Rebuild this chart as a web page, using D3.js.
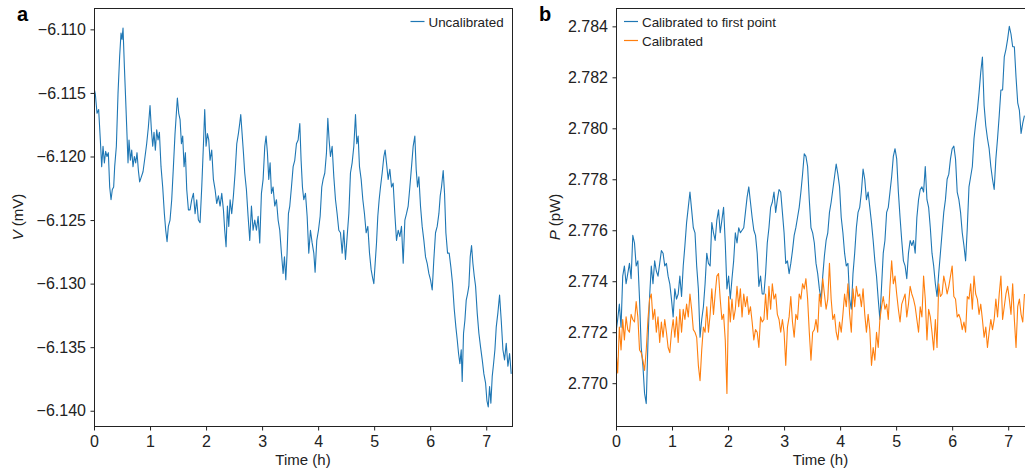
<!DOCTYPE html>
<meta charset="utf-8">
<style>
  body { margin: 0; background: #fff; }
  svg { display: block; font-family: "Liberation Sans", Arial, sans-serif; }
</style>
<body>
<script src="https://d3js.org/d3.v7.min.js"></script>
<script>

// ---- panel a: uncalibrated voltage (mV) vs time (h)
var timeA = [0,0.024,0.054,0.083,0.113,0.137,0.161,0.185,0.208,0.232,0.256,0.28,0.304,0.327,0.351,0.369,0.399,0.429,0.458,0.482,
  0.5,0.518,0.542,0.565,0.583,0.607,0.625,0.649,0.673,0.696,0.72,0.744,0.768,0.792,0.815,0.845,0.875,0.911,0.94,0.97,
  1.0,1.024,1.048,1.071,1.095,1.119,1.143,1.167,1.196,1.226,1.256,1.28,1.304,1.327,1.357,1.387,1.417,1.446,1.47,1.488,
  1.512,1.536,1.56,1.583,1.607,1.631,1.655,1.685,1.714,1.744,1.774,1.804,1.833,1.863,1.893,1.923,1.952,1.976,2.0,2.024,
  2.048,2.071,2.101,2.131,2.161,2.19,2.22,2.25,2.28,2.31,2.333,2.357,2.381,2.405,2.429,2.458,2.488,2.518,2.548,2.577,
  2.601,2.619,2.643,2.667,2.69,2.72,2.75,2.78,2.81,2.839,2.869,2.899,2.929,2.958,2.988,3.018,3.048,3.071,3.095,3.119,
  3.143,3.167,3.196,3.226,3.256,3.286,3.315,3.345,3.375,3.399,3.423,3.446,3.47,3.494,3.524,3.554,3.583,3.613,3.643,3.673,
  3.696,3.72,3.744,3.774,3.804,3.833,3.863,3.893,3.923,3.946,3.976,4.006,4.036,4.065,4.089,4.119,4.149,4.173,4.196,4.22,
  4.25,4.28,4.31,4.339,4.369,4.399,4.429,4.458,4.488,4.518,4.548,4.577,4.607,4.637,4.667,4.69,4.714,4.738,4.768,4.798,
  4.827,4.857,4.887,4.917,4.946,4.97,4.994,5.018,5.042,5.065,5.089,5.113,5.143,5.173,5.196,5.22,5.25,5.28,5.31,5.339,
  5.369,5.399,5.429,5.458,5.488,5.518,5.548,5.577,5.607,5.637,5.667,5.696,5.726,5.75,5.774,5.798,5.827,5.857,5.887,5.917,
  5.946,5.976,6.006,6.036,6.065,6.095,6.125,6.155,6.179,6.202,6.232,6.256,6.28,6.31,6.339,6.369,6.399,6.429,6.458,6.482,
  6.506,6.53,6.554,6.571,6.595,6.619,6.643,6.667,6.69,6.714,6.738,6.762,6.786,6.81,6.839,6.869,6.899,6.929,6.958,6.988,
  7.012,7.036,7.06,7.083,7.107,7.131,7.155,7.179,7.208,7.238,7.268,7.298,7.327,7.357,7.387,7.417,7.446];

var uncalibrated = [-6.1146,-6.1151,-6.1166,-6.1163,-6.1187,-6.1208,-6.1192,-6.1205,-6.1196,-6.1200,-6.1197,-6.1224,-6.1234,-6.1226,-6.1224,-6.1208,-6.1192,-6.1150,-6.1121,-6.1103,
  -6.1108,-6.1099,-6.1129,-6.1155,-6.1176,-6.1205,-6.1187,-6.1203,-6.1195,-6.1208,-6.1200,-6.1205,-6.1197,-6.1211,-6.1220,-6.1216,-6.1212,-6.1200,-6.1190,-6.1177,
  -6.1160,-6.1179,-6.1192,-6.1181,-6.1195,-6.1179,-6.1187,-6.1181,-6.1208,-6.1224,-6.1245,-6.1258,-6.1267,-6.1255,-6.1250,-6.1234,-6.1208,-6.1182,-6.1166,-6.1154,
  -6.1166,-6.1171,-6.1190,-6.1184,-6.1208,-6.1197,-6.1226,-6.1242,-6.1242,-6.1234,-6.1229,-6.1245,-6.1234,-6.1250,-6.1252,-6.1224,-6.1192,-6.1163,-6.1192,-6.1182,
  -6.1187,-6.1203,-6.1195,-6.1218,-6.1226,-6.1237,-6.1231,-6.1239,-6.1229,-6.1242,-6.1258,-6.1271,-6.1239,-6.1255,-6.1234,-6.1245,-6.1231,-6.1213,-6.1190,-6.1182,
  -6.1174,-6.1167,-6.1182,-6.1197,-6.1213,-6.1226,-6.1247,-6.1266,-6.1239,-6.1258,-6.1250,-6.1258,-6.1247,-6.1268,-6.1229,-6.1218,-6.1192,-6.1184,-6.1197,-6.1218,
  -6.1205,-6.1229,-6.1224,-6.1239,-6.1234,-6.1250,-6.1258,-6.1276,-6.1292,-6.1279,-6.1297,-6.1276,-6.1245,-6.1239,-6.1224,-6.1208,-6.1203,-6.1190,-6.1187,-6.1174,
  -6.1203,-6.1224,-6.1234,-6.1229,-6.1247,-6.1276,-6.1258,-6.1268,-6.1276,-6.1291,-6.1266,-6.1258,-6.1247,-6.1224,-6.1218,-6.1213,-6.1197,-6.1170,-6.1187,-6.1200,
  -6.1192,-6.1216,-6.1234,-6.1245,-6.1258,-6.1260,-6.1276,-6.1258,-6.1281,-6.1263,-6.1245,-6.1213,-6.1205,-6.1192,-6.1167,-6.1190,-6.1184,-6.1208,-6.1218,-6.1234,
  -6.1245,-6.1260,-6.1255,-6.1276,-6.1289,-6.1295,-6.1300,-6.1284,-6.1268,-6.1247,-6.1234,-6.1224,-6.1213,-6.1200,-6.1195,-6.1205,-6.1218,-6.1210,-6.1224,-6.1221,
  -6.1245,-6.1266,-6.1258,-6.1263,-6.1255,-6.1284,-6.1250,-6.1245,-6.1239,-6.1224,-6.1208,-6.1192,-6.1184,-6.1210,-6.1224,-6.1216,-6.1239,-6.1255,-6.1266,-6.1279,
  -6.1284,-6.1292,-6.1297,-6.1305,-6.1281,-6.1260,-6.1255,-6.1245,-6.1231,-6.1224,-6.1211,-6.1229,-6.1260,-6.1276,-6.1276,-6.1287,-6.1300,-6.1320,-6.1334,-6.1344,
  -6.1355,-6.1363,-6.1352,-6.1377,-6.1339,-6.1329,-6.1313,-6.1308,-6.1302,-6.1279,-6.1270,-6.1284,-6.1294,-6.1302,-6.1323,-6.1339,-6.1350,-6.1360,-6.1371,-6.1378,
  -6.1392,-6.1397,-6.1381,-6.1394,-6.1373,-6.1363,-6.1352,-6.1334,-6.1323,-6.1309,-6.1329,-6.1352,-6.1360,-6.1347,-6.1365,-6.1355,-6.1371];

// ---- panel b: power (pW) vs time (h)
var timeB = [0,0.03,0.06,0.09,0.12,0.15,0.18,0.21,0.24,0.27,
  0.30,0.33,0.36,0.39,0.42,0.45,0.48,0.51,0.54,0.57,
  0.60,0.63,0.66,0.69,0.72,0.75,0.78,0.81,0.84,0.87,
  0.90,0.93,0.96,0.99,1.02,1.05,1.08,1.11,1.14,1.17,
  1.20,1.23,1.26,1.29,1.32,1.35,1.38,1.41,1.44,1.47,
  1.50,1.53,1.56,1.59,1.62,1.65,1.68,1.71,1.74,1.77,
  1.80,1.83,1.86,1.89,1.92,1.95,1.98,2.01,2.04,2.07,
  2.10,2.13,2.16,2.19,2.22,2.25,2.28,2.31,2.34,2.37,
  2.40,2.43,2.46,2.49,2.52,2.55,2.58,2.61,2.64,2.67,
  2.70,2.73,2.76,2.79,2.82,2.85,2.88,2.91,2.94,2.97,
  3.00,3.03,3.06,3.09,3.12,3.15,3.18,3.21,3.24,3.27,
  3.30,3.33,3.36,3.39,3.42,3.45,3.48,3.51,3.54,3.57,
  3.60,3.63,3.66,3.69,3.72,3.75,3.78,3.81,3.84,3.87,
  3.90,3.93,3.96,3.99,4.02,4.05,4.08,4.11,4.14,4.17,
  4.20,4.23,4.26,4.29,4.32,4.35,4.38,4.41,4.44,4.47,
  4.50,4.53,4.56,4.59,4.62,4.65,4.68,4.71,4.74,4.77,
  4.80,4.83,4.86,4.89,4.92,4.95,4.98,5.01,5.04,5.07,
  5.10,5.13,5.16,5.19,5.22,5.25,5.28,5.31,5.34,5.37,
  5.40,5.43,5.46,5.49,5.52,5.55,5.58,5.61,5.64,5.67,
  5.70,5.73,5.76,5.79,5.82,5.85,5.88,5.91,5.94,5.97,
  6.00,6.03,6.06,6.09,6.12,6.15,6.18,6.21,6.24,6.27,
  6.30,6.33,6.36,6.39,6.42,6.45,6.48,6.51,6.54,6.57,
  6.60,6.63,6.66,6.69,6.72,6.75,6.78,6.81,6.84,6.87,
  6.90,6.93,6.96,6.99,7.02,7.05,7.08,7.11,7.14,7.17,
  7.20,7.23,7.26,7.29];

var calibFirst = [2.7720,2.7725,2.7731,2.7722,2.7742,2.7746,2.7739,2.7743,2.7747,2.7741,
  2.7758,2.7755,2.7746,2.7748,2.7733,2.7714,2.7707,2.7696,2.7692,2.7716,
  2.7734,2.7746,2.7739,2.7748,2.7744,2.7742,2.7747,2.7752,2.7751,2.7746,
  2.7747,2.7742,2.7739,2.7733,2.7726,2.7737,2.7733,2.7735,2.7742,2.7734,
  2.7746,2.7754,2.7763,2.7769,2.7775,2.7768,2.7761,2.7759,2.7746,2.7737,
  2.7718,2.7725,2.7730,2.7739,2.7751,2.7747,2.7746,2.7763,2.7759,2.7756,
  2.7764,2.7768,2.7759,2.7764,2.7769,2.7755,2.7737,2.7742,2.7733,2.7741,
  2.7748,2.7759,2.7755,2.7761,2.7759,2.7760,2.7761,2.7767,2.7773,2.7777,
  2.7771,2.7765,2.7760,2.7758,2.7751,2.7738,2.7742,2.7735,
  2.7735,2.7743,2.7755,2.7761,2.7769,2.7771,2.7775,2.7767,2.7772,2.7776,
  2.7775,2.7767,2.7759,2.7747,2.7748,2.7743,2.7747,2.7752,2.7758,2.7761,
  2.7765,2.7769,2.7775,2.7782,2.7790,2.7789,2.7785,2.7772,2.7761,2.7759,
  2.7755,2.7747,2.7743,2.7737,2.7733,2.7742,2.7750,2.7756,2.7759,2.7767,
  2.7771,2.7776,2.7781,2.7786,2.7782,2.7777,2.7765,2.7759,2.7751,2.7746,
  2.7747,2.7733,2.7729,2.7743,2.7751,2.7761,2.7767,2.7769,2.7775,2.7784,
  2.7780,2.7772,2.7775,2.7769,2.7763,2.7756,2.7748,2.7742,2.7733,2.7725,
  2.7738,2.7751,2.7756,2.7767,2.7769,2.7775,2.7781,2.7789,2.7792,2.7788,
  2.7775,2.7765,2.7756,2.7748,2.7746,2.7741,2.7751,2.7756,2.7754,2.7756,
  2.7751,2.7765,2.7772,2.7776,2.7777,2.7775,2.7785,2.7772,2.7769,2.7761,
  2.7751,2.7746,2.7739,2.7734,2.7743,2.7751,2.7759,2.7767,2.7772,2.7780,
  2.7782,2.7788,2.7792,2.7793,2.7788,2.7775,2.7772,2.7767,2.7759,2.7754,
  2.7748,2.7761,2.7777,2.7781,2.7785,
  2.7796,2.7802,2.7807,2.7814,2.7822,2.7828,2.7809,2.7801,2.7796,2.7792,
  2.7785,2.7780,2.7776,2.7788,2.7796,2.7805,2.7815,2.7815,2.7828,2.7831,
  2.7835,2.7840,2.7837,2.7832,2.7832,2.7820,2.7810,2.7807,2.7798,2.7802,2.7805];

var calibrated = [2.7713,2.7704,2.7722,2.7713,2.7725,2.7717,2.7726,2.7721,2.7720,2.7727,
  2.7725,2.7724,2.7732,2.7726,2.7713,2.7712,2.7709,2.7705,2.7713,2.7725,
  2.7733,2.7735,2.7725,2.7729,2.7720,2.7726,2.7716,2.7724,2.7718,2.7725,
  2.7720,2.7714,2.7712,2.7720,2.7725,2.7718,2.7726,2.7716,2.7729,2.7720,
  2.7729,2.7725,2.7731,2.7726,2.7735,2.7729,2.7721,2.7720,2.7718,2.7707,
  2.7701,2.7713,2.7722,2.7720,2.7730,2.7720,2.7727,2.7737,2.7727,2.7735,
  2.7742,2.7743,2.7733,2.7725,2.7727,2.7717,2.7696,2.7734,2.7724,2.7733,
  2.7725,2.7729,2.7738,2.7730,2.7737,2.7726,2.7735,2.7730,2.7734,2.7727,
  2.7730,2.7724,2.7717,2.7721,2.7720,2.7714,2.7726,2.7724,
  2.7725,2.7735,2.7725,2.7738,2.7729,2.7739,2.7733,2.7735,2.7727,2.7725,
  2.7720,2.7725,2.7720,2.7707,2.7722,2.7726,2.7734,2.7724,2.7718,2.7727,
  2.7725,2.7735,2.7733,2.7739,2.7737,2.7741,2.7733,2.7720,2.7709,2.7720,
  2.7721,2.7725,2.7720,2.7735,2.7730,2.7741,2.7735,2.7729,2.7733,2.7747,
  2.7733,2.7725,2.7727,2.7720,2.7717,2.7724,2.7720,2.7727,2.7735,2.7730,
  2.7739,2.7727,2.7720,2.7737,2.7730,2.7738,2.7734,2.7735,2.7730,2.7737,
  2.7727,2.7720,2.7727,2.7721,2.7707,2.7714,2.7709,2.7720,2.7714,2.7725,
  2.7730,2.7734,2.7729,2.7731,2.7725,2.7738,2.7748,2.7739,2.7742,2.7735,
  2.7729,2.7724,2.7731,2.7733,2.7735,2.7726,2.7731,2.7738,2.7735,2.7733,
  2.7730,2.7725,2.7720,2.7730,2.7726,2.7742,2.7733,2.7717,2.7729,2.7726,
  2.7720,2.7713,2.7725,2.7714,2.7739,2.7734,2.7735,2.7742,2.7739,2.7735,
  2.7738,2.7742,2.7746,2.7734,2.7733,2.7726,2.7727,2.7725,2.7721,2.7724,
  2.7720,2.7734,2.7733,2.7739,2.7729,
  2.7742,2.7735,2.7733,2.7727,2.7731,2.7725,2.7718,2.7722,2.7714,2.7720,
  2.7725,2.7721,2.7725,2.7733,2.7726,2.7735,2.7742,2.7725,2.7730,2.7735,
  2.7738,2.7733,2.7727,2.7739,2.7725,2.7714,2.7730,2.7733,2.7727,2.7724,2.7735];

var xTicks = [0, 1, 2, 3, 4, 5, 6, 7];
var yTicksA = [-6.140, -6.135, -6.130, -6.125, -6.120, -6.115, -6.110];
var yTicksB = [2.770, 2.772, 2.774, 2.776, 2.778, 2.780, 2.782, 2.784];

var width = 1025, height = 470;
var blue = "#1f77b4", orange = "#ff7f0e", ink = "#222";

var svg = d3.select("body").append("svg")
    .attr("width", width)
    .attr("height", height);

function pair(ts, vs) {
  var n = Math.min(ts.length, vs.length);
  return d3.range(n).map(function(i) { return [ts[i], vs[i]]; });
}

function panel(opt) {
  var x = d3.scaleLinear().domain(opt.xDomain).range([opt.left, opt.right]);
  var y = d3.scaleLinear().domain(opt.yDomain).range([opt.bottom, opt.top]);
  var g = svg.append("g");

  var clipId = "clip-" + opt.name;
  svg.append("clipPath").attr("id", clipId)
    .append("rect")
      .attr("x", opt.left).attr("y", opt.top)
      .attr("width", opt.right - opt.left).attr("height", opt.bottom - opt.top);

  var line = d3.line()
      .x(function(d) { return x(d[0]); })
      .y(function(d) { return y(d[1]); });

  opt.series.forEach(function(s) {
    g.append("path")
      .datum(pair(s.t, s.v))
      .attr("clip-path", "url(#" + clipId + ")")
      .attr("fill", "none")
      .attr("stroke", s.color)
      .attr("stroke-width", 1.1)
      .attr("stroke-linejoin", "round")
      .attr("d", line);
  });

  // axes
  var xAxis = g.append("g")
      .attr("transform", "translate(0," + (opt.bottom + 0.5) + ")")
      .call(d3.axisBottom(x).tickValues(xTicks).tickFormat(d3.format("d")).tickSize(4).tickPadding(5.5));
  var yAxis = g.append("g")
      .attr("transform", "translate(" + (opt.left + 0.5) + ",0)")
      .call(d3.axisLeft(y).tickValues(opt.yTicks).tickFormat(d3.format(".3f")).tickSize(4).tickPadding(4.5));
  [xAxis, yAxis].forEach(function(a) {
    a.select(".domain").remove();
    a.selectAll("line").attr("stroke", ink).attr("stroke-width", 1);
    a.selectAll("text").attr("fill", ink).style("font-size", "16px")
      .style("font-family", "'Liberation Sans', Arial, sans-serif");
  });

  // frame
  g.append("rect")
    .attr("x", opt.left + 0.5).attr("y", opt.top + 0.5)
    .attr("width", opt.right - opt.left).attr("height", opt.bottom - opt.top)
    .attr("fill", "none").attr("stroke", ink).attr("stroke-width", 1);

  // axis titles
  g.append("text")
    .attr("x", (opt.left + opt.right) / 2).attr("y", 465)
    .attr("text-anchor", "middle").attr("fill", ink)
    .style("font-size", "15px")
    .text("Time (h)");

  var yl = g.append("text")
    .attr("transform", "translate(" + opt.yLabelX + "," + ((opt.top + opt.bottom) / 2) + ") rotate(-90)")
    .attr("text-anchor", "middle").attr("fill", ink)
    .style("font-size", "15px");
  yl.append("tspan").style("font-style", "italic").text(opt.yVar);
  yl.append("tspan").text(" " + opt.yUnit);

  // panel letter
  g.append("text")
    .attr("x", opt.letterX).attr("y", 21)
    .attr("fill", "#000")
    .style("font-size", "20px").style("font-weight", "bold")
    .text(opt.name);

  // legend
  opt.series.forEach(function(s, i) {
    var ly = 21.5 + i * 19;
    g.append("line")
      .attr("x1", opt.legendX).attr("x2", opt.legendX + 14)
      .attr("y1", ly).attr("y2", ly)
      .attr("stroke", s.color).attr("stroke-width", 1.2);
    g.append("text")
      .attr("x", opt.legendX + 18).attr("y", ly + 5)
      .attr("fill", ink)
      .style("font-size", "13.4px")
      .text(s.label);
  });
}

panel({
  name: "a",
  left: 94, right: 512, top: 8, bottom: 426,
  xDomain: [0, 7.46],
  yDomain: [-6.1412, -6.10832],
  yTicks: yTicksA,
  yVar: "V", yUnit: "(mV)", yLabelX: 23,
  letterX: 17,
  legendX: 410.5,
  series: [{t: timeA, v: uncalibrated, color: blue, label: "Uncalibrated"}]
});

panel({
  name: "b",
  left: 616, right: 1025, top: 8, bottom: 426,
  xDomain: [0, 7.3],
  yDomain: [2.76832, 2.78472],
  yTicks: yTicksB,
  yVar: "P", yUnit: "(pW)", yLabelX: 560,
  letterX: 539,
  legendX: 624,
  series: [
    {t: timeB, v: calibFirst, color: blue, label: "Calibrated to first point"},
    {t: timeB, v: calibrated, color: orange, label: "Calibrated"}
  ]
});

</script>
